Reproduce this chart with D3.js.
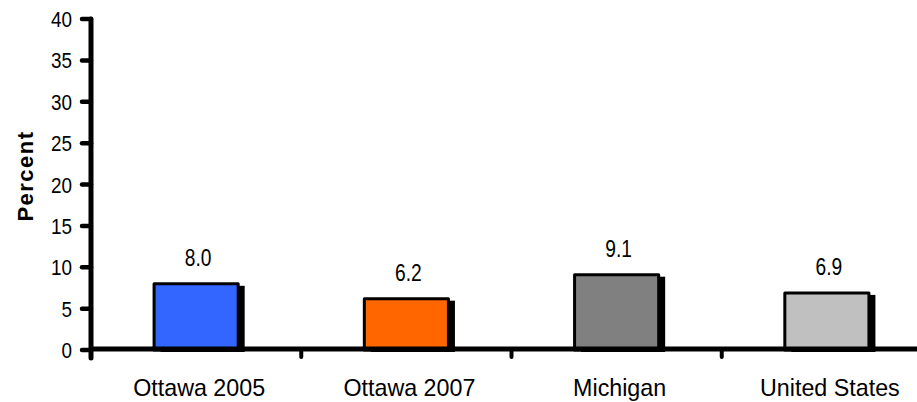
<!DOCTYPE html>
<html><head><meta charset="utf-8">
<script src="https://cdn.jsdelivr.net/npm/d3@7"></script>
<style>body{margin:0;background:#fff}svg{display:block}</style>
</head><body>
<script>
const categories = ["Ottawa 2005", "Ottawa 2007", "Michigan", "United States"];
const values = [8.0, 6.2, 9.1, 6.9];
const colors = ["#3366ff", "#ff6600", "#808080", "#c0c0c0"];
const yTicks = [0, 5, 10, 15, 20, 25, 30, 35, 40];

const W = 917, H = 402;
const font = "'Liberation Sans',Arial,sans-serif";
const svg = d3.select("body").append("svg").attr("width", W).attr("height", H);

const x0 = 91, x1 = 932, yBase = 350, yTop = 19;
const x = d3.scaleBand().domain(categories).range([x0, x1]).paddingInner(0.6).paddingOuter(0.3);
const y = d3.scaleLinear().domain([0, 40]).range([yBase, yTop]);

// bars: shadow then bar
const g = svg.append("g");
g.selectAll("rect.shadow").data(values).join("rect")
  .attr("x", (d, i) => x(categories[i]) + 6.5)
  .attr("y", d => y(d) + 2)
  .attr("width", x.bandwidth())
  .attr("height", d => yBase - y(d))
  .attr("fill", "#000");
g.selectAll("rect.bar").data(values).join("rect")
  .attr("x", (d, i) => x(categories[i]))
  .attr("y", d => y(d))
  .attr("width", x.bandwidth())
  .attr("height", d => yBase - y(d))
  .attr("fill", (d, i) => colors[i])
  .attr("stroke", "#000").attr("stroke-width", 3).attr("stroke-linejoin", "round");

// value labels
g.selectAll("text.val").data(values).join("text")
  .attr("transform", (d, i) => `translate(${x(categories[i]) + x.bandwidth() / 2 + 2},${y(d) - 18}) scale(0.8,1)`)
  .attr("text-anchor", "middle")
  .attr("font-family", font).attr("font-size", 24)
  .text(d => d.toFixed(1));

// y axis
const ya = svg.append("g");
ya.append("line").attr("x1", x0).attr("x2", x0).attr("y1", y(40)).attr("y2", yBase + 8)
  .attr("stroke", "#000").attr("stroke-width", 5).attr("stroke-linecap", "round");
ya.selectAll("line.t").data(yTicks).join("line")
  .attr("x1", x0 - 9).attr("x2", x0).attr("y1", d => y(d)).attr("y2", d => y(d))
  .attr("stroke", "#000").attr("stroke-width", 4.5).attr("stroke-linecap", "round");
ya.selectAll("text").data(yTicks).join("text")
  .attr("transform", d => `translate(72,${y(d)}) scale(0.84,1)`)
  .attr("dy", "0.36em")
  .attr("text-anchor", "end")
  .attr("font-family", font).attr("font-size", 22.5)
  .text(d => d);

// x axis
const xa = svg.append("g");
xa.append("line").attr("x1", x0).attr("x2", W + 5).attr("y1", yBase - 1).attr("y2", yBase - 1)
  .attr("stroke", "#000").attr("stroke-width", 5);
xa.selectAll("line.t").data(categories.slice(1)).join("line")
  .attr("x1", d => x(d) - (x.step() - x.bandwidth()) / 2)
  .attr("x2", d => x(d) - (x.step() - x.bandwidth()) / 2)
  .attr("y1", yBase).attr("y2", yBase + 7)
  .attr("stroke", "#000").attr("stroke-width", 4).attr("stroke-linecap", "round");
xa.selectAll("text").data(categories).join("text")
  .attr("transform", d => `translate(${x(d) + x.bandwidth() / 2 + 3},395.5) scale(0.97,1)`)
  .attr("text-anchor", "middle")
  .attr("font-family", font).attr("font-size", 24)
  .text(d => d);

// y title
svg.append("text")
  .attr("transform", `translate(33,176) rotate(-90)`)
  .attr("text-anchor", "middle")
  .attr("font-family", font).attr("font-size", 22).attr("font-weight", "bold")
  .attr("letter-spacing", 1.5)
  .text("Percent");
</script>
</body></html>
